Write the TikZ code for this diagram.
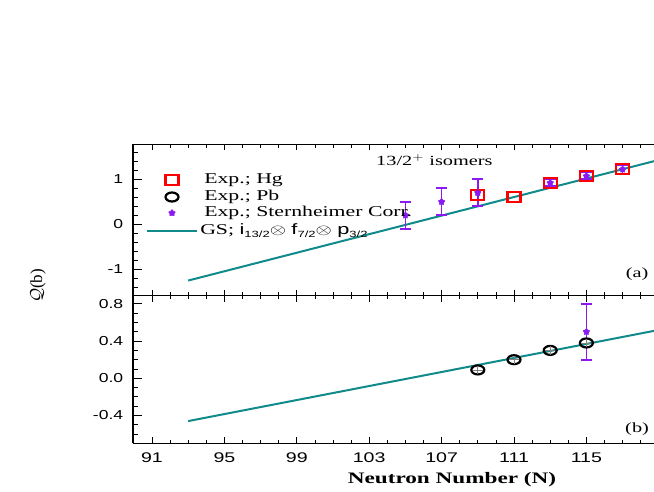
\documentclass[tikz,border=0pt]{standalone}
\usepackage{fontspec}
\setmainfont{Liberation Serif}
\newfontfamily\arialf{Liberation Sans}
\usetikzlibrary{shapes.geometric}
\definecolor{tealc}{HTML}{108A8A}
\definecolor{purp}{HTML}{8A1AF0}
\tikzset{
 fitline/.style={tealc,line width=2pt},
 hgsq/.style={draw=red,line width=2.2pt,minimum width=13pt,minimum height=10pt,inner sep=0pt,rectangle},
 pbci/.style={draw=black,line width=2.2pt,ellipse,minimum width=13pt,minimum height=9pt,inner sep=0pt},
 starm/.style={star,star points=5,fill=purp,draw=purp,minimum size=7pt,inner sep=0pt},
 errb/.style={purp,line width=1.6pt},
 ticklab/.style={font=\arialf\fontsize{13}{13}\selectfont,anchor=east,inner sep=1pt,xscale=1.35},
 legtext/.style={font=\fontsize{15}{15}\selectfont,anchor=west,inner sep=0pt,xscale=1.45},
}
\newcommand{\errbar}[3]{\draw[errb] (#1,#2) -- (#1,#3); \draw[errb] (#1-0.3,#2)--(#1+0.3,#2); \draw[errb] (#1-0.3,#3)--(#1+0.3,#3);}
\newcommand{\mysub}[1]{\raisebox{-0.35ex}{\arialf\fontsize{9}{9}\selectfont #1}}
\begin{document}
\begin{tikzpicture}[x=1pt,y=1pt]
\useasboundingbox (0,0) rectangle (654,491);
\clip (0,0) rectangle (654,491);
% top panel
\begin{scope}[shift={(152,266.7)},x=18.1pt,y=45pt]
 \draw[line width=1.2pt] (-1.05,1.78) -- (30,1.78);
 \draw[line width=1.2pt] (-1.05,-1.59) -- (-1.05,1.78);
 \foreach \n in {0,...,28}{\draw[line width=0.8pt] (\n,1.78) -- (\n,1.70); \draw[line width=0.8pt] (\n,-1.59)--(\n,-1.51);}
 \foreach \n in {0,4,...,28}{\draw[line width=1pt] (\n,1.78) -- (\n,1.64); \draw[line width=1pt] (\n,-1.59)--(\n,-1.45);}
 \foreach \q in {-1.4,-1.2,...,1.7}{\draw[line width=0.8pt] (-1.05,\q) -- (-0.75,\q);}
 \foreach \q in {-1,0,1}{\draw[line width=1pt] (-1.05,\q) -- (-0.55,\q);}
 \node[ticklab] (t1) at (-1.5,1) {1};
 \node[ticklab] (t0) at (-1.5,0) {0};
 \node[ticklab] (tm1) at (-1.5,-1) {-1};
 \draw[fitline] (2,-1.25) -- (28,1.43);
 \node[xscale=1.45] (iso) at (15.6,1.43) {\fontsize{14}{14}\selectfont 13/2$^{+}$ isomers};
 \node[xscale=1.45] (la) at (26.8,-1.1) {\fontsize{14}{14}\selectfont (a)};
 \errbar{14}{-0.1}{0.5}
 \errbar{16}{0.2}{0.8}
 \errbar{18}{0.4}{1.0}
 \errbar{22}{0.85}{1.0}
 \errbar{24}{1.0}{1.15}
 \errbar{26}{1.12}{1.32}
 \node[hgsq] (h1) at (18,0.65) {};
 \node[hgsq] (h2) at (20,0.6) {};
 \node[hgsq] (h3) at (22,0.92) {};
 \node[hgsq] (h4) at (24,1.07) {};
 \node[hgsq] (h5) at (26,1.22) {};
 \node[starm] (s1) at (14,0.2) {};
 \node[starm] (s2) at (16,0.5) {};
 \node[starm] (s3) at (18,0.7) {};
 \node[starm] (s4) at (22,0.92) {};
 \node[starm] (s5) at (24,1.07) {};
 \node[starm] (s6) at (26,1.22) {};
\end{scope}
% bottom panel
\begin{scope}[shift={(152,112.7)},x=18.1pt,y=93pt]
 \draw[line width=1.2pt] (-1.05,0.89) -- (30,0.89);
 \draw[line width=1.2pt] (-1.05,-0.70) -- (30,-0.70);
 \draw[line width=1.2pt] (-1.05,-0.70) -- (-1.05,0.89);
 \foreach \n in {0,...,28}{\draw[line width=0.8pt] (\n,0.89) -- (\n,0.85); \draw[line width=0.8pt] (\n,-0.70)--(\n,-0.66);}
 \foreach \n in {0,4,...,28}{\draw[line width=1pt] (\n,0.89) -- (\n,0.82); \draw[line width=1pt] (\n,-0.70)--(\n,-0.63);}
 \foreach \q in {-0.6,-0.5,...,0.85}{\draw[line width=0.8pt] (-1.05,\q) -- (-0.75,\q);}
 \foreach \q in {-0.4,0,0.4,0.8}{\draw[line width=1pt] (-1.05,\q) -- (-0.55,\q);}
 \node[ticklab] (b8) at (-1.5,0.8) {0.8};
 \node[ticklab] (b4) at (-1.5,0.4) {0.4};
 \node[ticklab] (b0) at (-1.5,0) {0.0};
 \node[ticklab] (bm4) at (-1.5,-0.4) {-0.4};
 \foreach \n/\lab in {0/91,4/95,8/99,12/103,16/107,20/111,24/115}{
   \node[font=\arialf\fontsize{14}{14}\selectfont,anchor=north,xscale=1.4] (x\lab) at (\n,-0.76) {\lab};}
 \draw[fitline] (2,-0.46) -- (28,0.52);
 \node[xscale=1.45] (lb) at (26.8,-0.55) {\fontsize{14}{14}\selectfont (b)};
 \errbar{24}{0.2}{0.8}
 \foreach \n/\q in {18/0.09,20/0.2,22/0.3,24/0.38}{
   \node[pbci] (p\n) at (\n,\q) {};
   \draw[gray,line width=0.7pt] (\n-0.28,\q)--(\n+0.28,\q) (\n,\q-0.045)--(\n,\q+0.045);}
 \node[starm] (s7) at (24,0.5) {};
\end{scope}
% legend
\node[hgsq] (lg1) at (172,311) {};
\node[pbci] (lg2) at (172,294) {};
\node[starm] (lg3) at (172,278) {};
\coordinate (la1) at (147,260);
\coordinate (la2) at (197,260);
\draw[fitline] (la1) -- (la2);
\node[legtext] (lt1) at (204,311) {Exp.; Hg};
\node[legtext] (lt2) at (204,294) {Exp.; Pb};
\node[legtext] (lt3) at (204,278) {Exp.; Sternheimer Corr.};
\node[legtext] (lt4) at (200,260) {GS; {\arialf i}\mysub{13/2}$\otimes$ {\arialf f}\mysub{7/2}$\otimes$ {\arialf p}\mysub{3/2}};
\node[font=\fontsize{16}{16}\selectfont\bfseries,xscale=1.45] (xl) at (452,11) {Neutron Number (N)};
\node[rotate=90,font=\fontsize{17}{17}\selectfont] (yl) at (38,205) {$\mathcal{Q}$(b)};
\end{tikzpicture}
\end{document}
